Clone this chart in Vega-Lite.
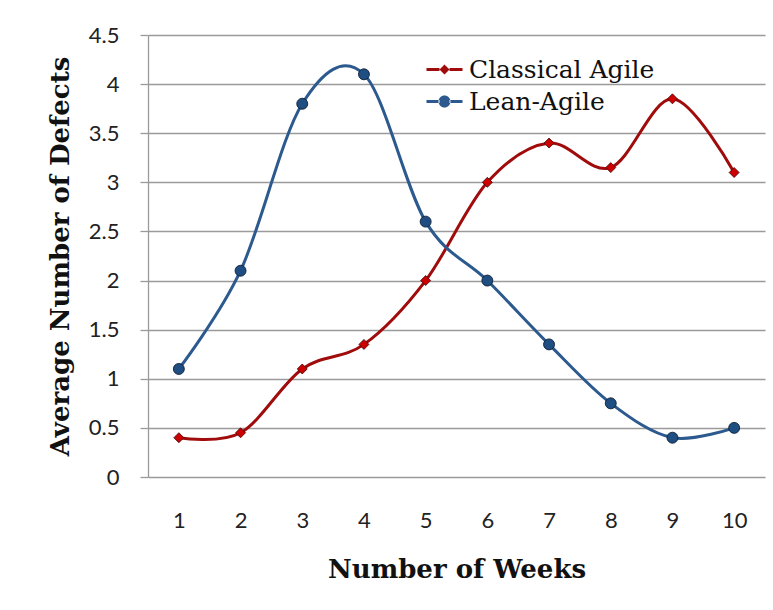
{
  "$schema": "https://vega.github.io/schema/vega-lite/v6.json",
  "autosize": "none",
  "width": 617,
  "height": 442,
  "padding": {"left": 148, "top": 35, "right": 8, "bottom": 133},
  "background": "white",
  "config": {"view": {"stroke": null}},
  "data": {"values": [
    {"week": 1, "series": "Classical Agile", "value": 0.4},
    {"week": 2, "series": "Classical Agile", "value": 0.45},
    {"week": 3, "series": "Classical Agile", "value": 1.1},
    {"week": 4, "series": "Classical Agile", "value": 1.35},
    {"week": 5, "series": "Classical Agile", "value": 2.0},
    {"week": 6, "series": "Classical Agile", "value": 3.0},
    {"week": 7, "series": "Classical Agile", "value": 3.4},
    {"week": 8, "series": "Classical Agile", "value": 3.15},
    {"week": 9, "series": "Classical Agile", "value": 3.85},
    {"week": 10, "series": "Classical Agile", "value": 3.1},
    {"week": 1, "series": "Lean-Agile", "value": 1.1},
    {"week": 2, "series": "Lean-Agile", "value": 2.1},
    {"week": 3, "series": "Lean-Agile", "value": 3.8},
    {"week": 4, "series": "Lean-Agile", "value": 4.1},
    {"week": 5, "series": "Lean-Agile", "value": 2.6},
    {"week": 6, "series": "Lean-Agile", "value": 2.0},
    {"week": 7, "series": "Lean-Agile", "value": 1.35},
    {"week": 8, "series": "Lean-Agile", "value": 0.75},
    {"week": 9, "series": "Lean-Agile", "value": 0.4},
    {"week": 10, "series": "Lean-Agile", "value": 0.5}
  ]},
  "encoding": {
    "x": {
      "field": "week", "type": "ordinal",
      "scale": {"type": "point", "padding": 0.5},
      "axis": {
        "title": "Number of Weeks", "labelAngle": 0, "domain": false, "ticks": false, "grid": false,
        "labelFont": "Lato", "labelFontSize": 22, "labelColor": "#222", "labelPadding": 33,
        "titleFont": "DejaVu Serif", "titleFontWeight": "bold", "titleFontSize": 26, "titleColor": "#111",
        "titlePadding": 25
      }
    },
    "y": {
      "field": "value", "type": "quantitative",
      "scale": {"domain": [0, 4.5], "nice": false},
      "axis": {
        "title": "Average Number of Defects",
        "values": [0, 0.5, 1, 1.5, 2, 2.5, 3, 3.5, 4, 4.5], "format": "~g",
        "domainColor": "#9a9a9a", "domainWidth": 1.3, "tickColor": "#9a9a9a", "tickWidth": 1.3, "tickSize": 8,
        "gridColor": "#9a9a9a", "gridWidth": 1.3,
        "labelFont": "Lato", "labelFontSize": 22, "labelColor": "#222", "labelPadding": 21,
        "titleFont": "DejaVu Serif", "titleFontWeight": "bold", "titleFontSize": 26, "titleColor": "#111",
        "titlePadding": 15
      }
    }
  },
  "layer": [
    {
      "mark": {"type": "line", "interpolate": "cardinal", "tension": 0, "strokeWidth": 3},
      "encoding": {
        "color": {
          "field": "series", "type": "nominal",
          "scale": {"domain": ["Classical Agile", "Lean-Agile"], "range": ["#a00c0c", "#2d5a8e"]},
          "legend": {
            "title": null, "orient": "none", "legendX": 284, "legendY": 22, "padding": 0,
            "labelFont": "DejaVu Serif", "labelFontSize": 25, "labelColor": "#111", "labelOffset": 12, "labelLimit": 400,
            "symbolSize": 100, "rowPadding": 6,
            "encode": {"symbols": {"update": {
              "shape": {"signal": "datum.value === 'Classical Agile' ? 'M-3.6,-0.3H-1V0.3H-3.6Z M1,-0.3H3.6V0.3H1Z M0,-1L1,0L0,1L-1,0Z' : 'M-3.6,-0.3H-1V0.3H-3.6Z M1,-0.3H3.6V0.3H1Z M-1.2,0A1.2,1.2 0 1,0 1.2,0A1.2,1.2 0 1,0 -1.2,0Z'"},
              "fill": {"signal": "datum.value === 'Classical Agile' ? '#a00c0c' : '#2d5a8e'"},
              "stroke": {"value": "transparent"},
              "strokeWidth": {"value": 0},
              "opacity": {"value": 1}
            }}}
          }
        }
      }
    },
    {
      "transform": [{"filter": "datum.series === 'Classical Agile'"}],
      "mark": {"type": "point", "shape": "diamond", "filled": true, "fill": "#cc0000", "stroke": "#3a0a0a", "strokeWidth": 0.8, "size": 100, "opacity": 1}
    },
    {
      "transform": [{"filter": "datum.series === 'Lean-Agile'"}],
      "mark": {"type": "point", "shape": "circle", "filled": true, "fill": "#1f4e82", "stroke": "#0e1e33", "strokeWidth": 0.9, "size": 120, "opacity": 1}
    }
  ]
}
